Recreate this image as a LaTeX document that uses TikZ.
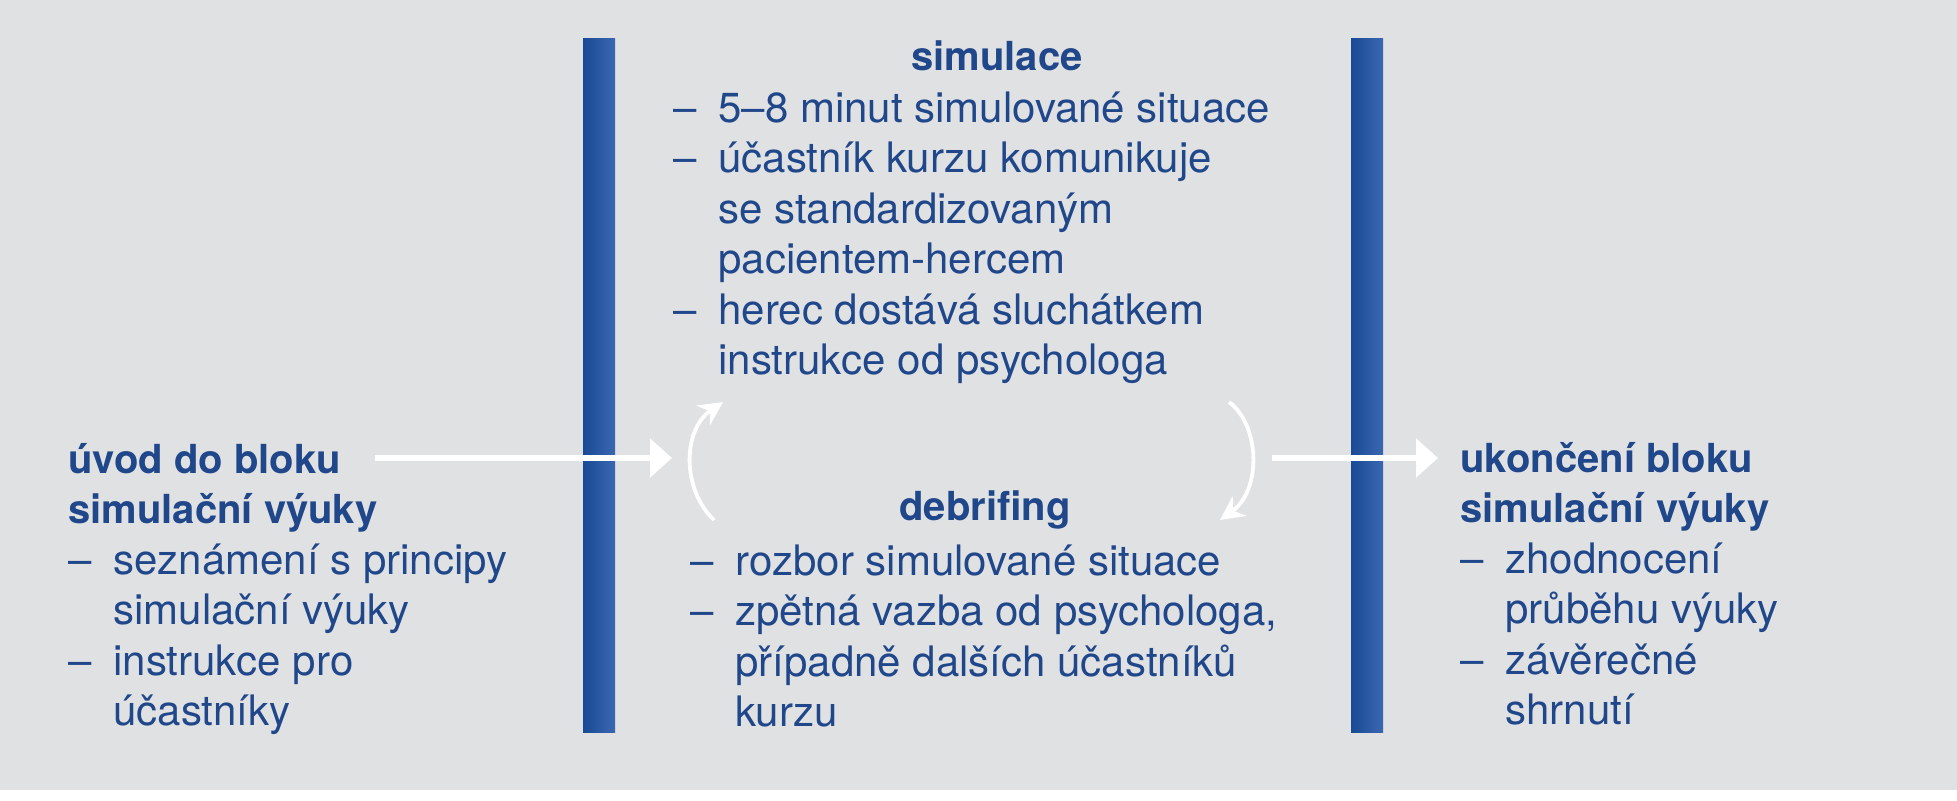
\documentclass[tikz,border=0pt]{standalone}
\usepackage{fontspec}
\setmainfont{TeX Gyre Heros}
\usetikzlibrary{arrows.meta}

\definecolor{pozadi}{HTML}{E0E1E3}
\definecolor{modra}{HTML}{21478B}
\definecolor{pruhtmavy}{HTML}{1A4A95}
\definecolor{pruhstred}{HTML}{416EB7}
\definecolor{pruhsvetly}{HTML}{3A67B0}

\newcommand{\nadpis}[1]{{\fontsize{20pt}{25.25pt}\selectfont\bfseries #1}}
\newcommand{\bod}[1]{\makebox[22.5pt][l]{–}#1}
\newcommand{\dal}[1]{\hspace*{22.5pt}#1}

\begin{document}
\begin{tikzpicture}[x=0.5pt,y=0.5pt,yscale=-1,xscale=1,
  blok/.style={anchor=base west,inner sep=0pt,text=modra,font=\fontsize{21pt}{25.25pt}\selectfont},
  titul/.style={anchor=base,inner sep=0pt,text=modra,font=\fontsize{20pt}{25.25pt}\selectfont\bfseries},
  sipka/.style={white,line width=3pt,-{Triangle[length=11pt,width=19pt]}},
  oblouk/.style={white,line width=1.9pt,-{Stealth[length=12pt,width=12pt,inset=4pt]}},
  pruh/.style={left color=pruhtmavy,middle color=pruhstred,right color=pruhsvetly}]
\useasboundingbox (0,0) rectangle (1957,800);

%Background
\fill[pozadi] (0,0) rectangle (1957,790);
\fill[white] (0,790) rectangle (1957,800);

%Bars
\shade[pruh] (583,38) rectangle (615,732);
\shade[pruh] (1351,38) rectangle (1383,732);

% Text Node
\node (uvod) [blok] at (68,473) {\begin{tabular}[t]{@{}l@{}}
\nadpis{úvod do bloku}\\
\nadpis{simulační výuky}\\
\bod{seznámení s principy}\\
\dal{simulační výuky}\\
\bod{instrukce pro}\\
\dal{účastníky}
\end{tabular}};
% Text Node
\node (simulace) [titul] at (997,70) {simulace};
% Text Node
\node (simtext) [blok] at (673,122) {\begin{tabular}[t]{@{}l@{}}
\bod{5–8 minut simulované situace}\\
\bod{účastník kurzu komunikuje}\\
\dal{se standardizovaným}\\
\dal{pacientem-hercem}\\
\bod{herec dostává sluchátkem}\\
\dal{instrukce od psychologa}
\end{tabular}};
% Text Node
\node (debrifing) [titul] at (985,520) {debrifing};
% Text Node
\node (debtext) [blok] at (690,575) {\begin{tabular}[t]{@{}l@{}}
\bod{rozbor simulované situace}\\
\bod{zpětná vazba od psychologa,}\\
\dal{případně dalších účastníků}\\
\dal{kurzu}
\end{tabular}};
% Text Node
\node (ukonceni) [blok] at (1460,472) {\begin{tabular}[t]{@{}l@{}}
\nadpis{ukončení bloku}\\
\nadpis{simulační výuky}\\
\bod{zhodnocení}\\
\dal{průběhu výuky}\\
\bod{závěrečné}\\
\dal{shrnutí}
\end{tabular}};

%Arrows
\coordinate (vstup) at (375,458);
\coordinate (vstupcil) at (672,458);
\coordinate (vystup) at (1272,458);
\coordinate (vystupcil) at (1438,458);
\draw[sipka] (vstup) -- (vstupcil);
\draw[sipka] (vystup) -- (vystupcil);

%Cycle
\coordinate (dolL) at (714,520);
\coordinate (horL) at (723,402);
\coordinate (horP) at (1229,402);
\coordinate (dolP) at (1220,520);
\draw[oblouk] (dolL) .. controls (682,490) and (682,430) .. (horL);
\draw[oblouk] (horP) .. controls (1260,425) and (1262,490) .. (dolP);

\end{tikzpicture}
\end{document}
